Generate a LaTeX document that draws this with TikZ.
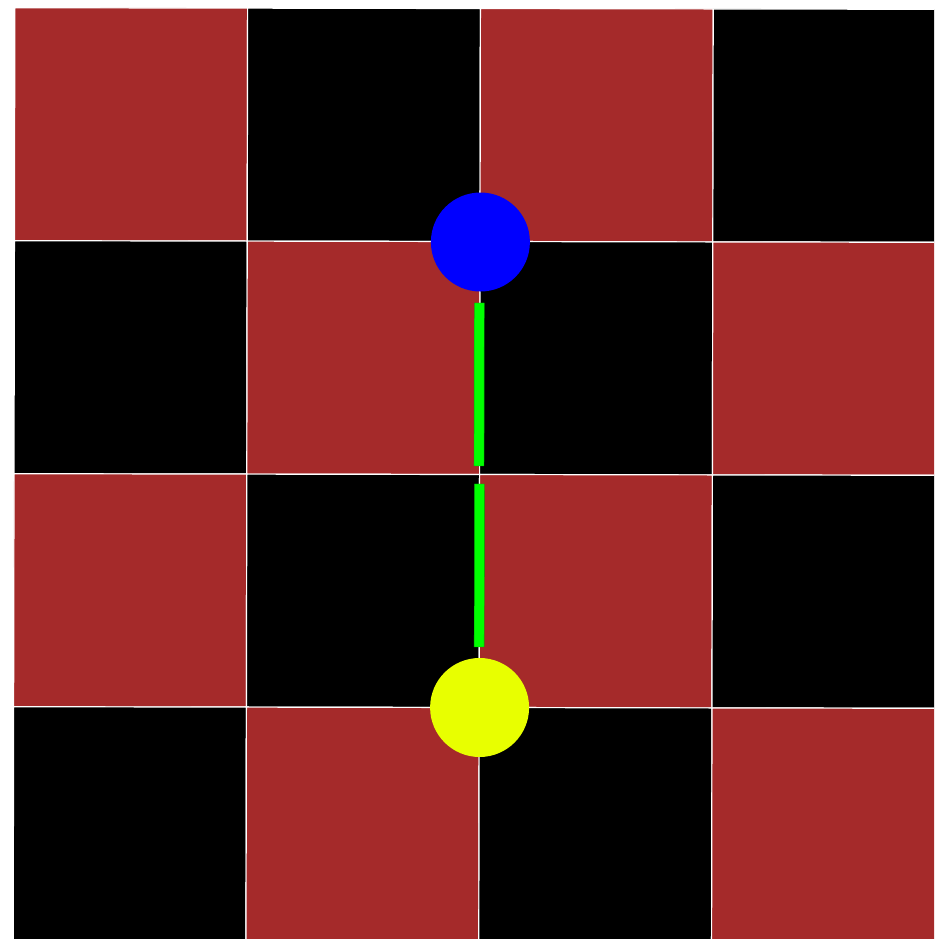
\documentclass[tikz,border=0pt]{standalone}
\definecolor{cellred}{HTML}{A52A2A}
\definecolor{dotblue}{HTML}{0000FF}
\definecolor{dotyellow}{HTML}{E8FF00}
\definecolor{barfill}{HTML}{00FF00}
\definecolor{barline}{HTML}{00A000}
\begin{document}
\begin{tikzpicture}[x=1pt,y=-1pt,
  cellbox/.style={draw=white,line width=1.2pt},
  dot/.style={circle,minimum size=99pt,inner sep=0pt,draw=none},
  bar/.style={draw=barline,line width=0.4pt,fill=barfill}]
\useasboundingbox (0,0) rectangle (934,939);
\clip (0,0) rectangle (934,939);
\fill[white] (0,0) rectangle (934,939);
\begin{scope}[rotate around={-0.1:(480,474)}]
\foreach \i in {0,...,3}{
  \foreach \j in {0,...,3}{
    \pgfmathtruncatemacro{\cellparity}{mod(\i+\j,2)}
    \ifnum\cellparity=0
      \filldraw[cellbox,fill=cellred] ({14+232.8*\i},{8.5+233*\j}) rectangle ++(232.8,233);
    \else
      \filldraw[cellbox,fill=black] ({14+232.8*\i},{8.5+233*\j}) rectangle ++(232.8,233);
    \fi
  }
}
\coordinate (b1top) at (474,303);
\coordinate (b1bot) at (484,466);
\coordinate (b2top) at (474.5,484);
\coordinate (b2bot) at (484.5,647);
\filldraw[bar] (b1top) rectangle (b1bot);
\filldraw[bar] (b2top) rectangle (b2bot);
\node[dot,fill=dotblue] (blue) at (480,242) {};
\node[dot,fill=dotyellow] (yellow) at (480,707.5) {};
\end{scope}
\end{tikzpicture}
\end{document}
